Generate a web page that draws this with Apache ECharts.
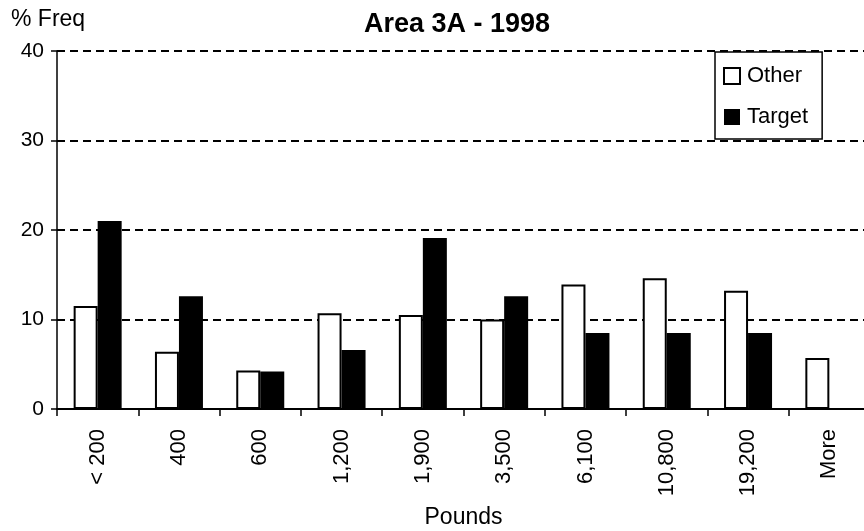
<!DOCTYPE html>
<html>
<head>
<meta charset="utf-8">
<script src="https://cdn.jsdelivr.net/npm/echarts@6/dist/echarts.min.js"></script>
<style>
html,body{margin:0;padding:0;background:#fff;}
#main{width:864px;height:531px;}
</style>
</head>
<body>
<div id="main"></div>
<script>
const categories = ['< 200', '400', '600', '1,200', '1,900', '3,500', '6,100', '10,800', '19,200', 'More'];
const otherValues = [11.5, 6.4, 4.3, 10.7, 10.5, 10.0, 13.9, 14.6, 13.2, 5.7];
const targetValues = [21.0, 12.6, 4.2, 6.6, 19.1, 12.6, 8.5, 8.5, 8.5, 0];
const yTicks = [0, 10, 20, 30, 40];
const titleText = 'Area 3A - 1998';
const yName = '% Freq';
const xName = 'Pounds';

const FONT = 'Liberation Sans, Arial, sans-serif';
const chart = echarts.init(document.getElementById('main'), null, {renderer: 'canvas'});
chart.setOption({
  backgroundColor: '#fff',
  animation: false,
  title: [
    {text: titleText, left: 364, top: 11, padding: 0,
     textStyle: {fontFamily: FONT, fontWeight: 'bold', fontSize: 27, color: '#000'}},
    {text: yName, left: 11, top: 8, padding: 0,
     textStyle: {fontFamily: FONT, fontWeight: 'normal', fontSize: 23, color: '#000'}}
  ],
  legend: {
    orient: 'vertical',
    left: 715, top: 52,
    padding: [12, 14, 10, 8],
    itemWidth: 16, itemHeight: 16, itemGap: 17,
    backgroundColor: '#fff',
    borderColor: '#000', borderWidth: 1.5,
    textStyle: {fontFamily: FONT, fontSize: 22, color: '#000', lineHeight: 24, padding: [0, 0, 0, 2]},
    data: [
      {name: 'Other', icon: 'rect', itemStyle: {color: '#fff', borderColor: '#000', borderWidth: 2}},
      {name: 'Target', icon: 'rect', itemStyle: {color: '#000', borderColor: '#000', borderWidth: 0}}
    ]
  },
  grid: {left: 57, right: -6, top: 51, bottom: 122, containLabel: false, outerBoundsMode: 'none'},
  xAxis: {
    type: 'category',
    data: categories,
    boundaryGap: true,
    name: xName,
    nameLocation: 'middle',
    nameGap: 97,
    nameTextStyle: {fontFamily: FONT, fontSize: 23, color: '#000'},
    axisLine: {lineStyle: {color: '#000', width: 2}},
    axisTick: {show: true, length: 7, lineStyle: {color: '#000', width: 1.5}},
    axisLabel: {rotate: 90, margin: 20, fontFamily: FONT, fontSize: 22, color: '#000', interval: 0}
  },
  yAxis: {
    type: 'value',
    min: yTicks[0], max: yTicks[yTicks.length - 1], interval: 10,
    axisLine: {show: true, lineStyle: {color: '#000', width: 1.5}},
    axisTick: {show: true, length: 6, lineStyle: {color: '#000', width: 1.5}},
    axisLabel: {margin: 13, fontFamily: FONT, fontSize: 21, color: '#000'},
    splitLine: {show: true, lineStyle: {color: '#000', width: 2, type: [8, 5]}}
  },
  series: [
    {name: 'Other', type: 'bar', data: otherValues, barWidth: 24, barGap: '0%',
     itemStyle: {color: '#fff', borderColor: '#000', borderWidth: 2}},
    {name: 'Target', type: 'bar', data: targetValues, barWidth: 24, barGap: '0%',
     itemStyle: {color: '#000', borderColor: '#000', borderWidth: 0}}
  ]
});
</script>
</body>
</html>
